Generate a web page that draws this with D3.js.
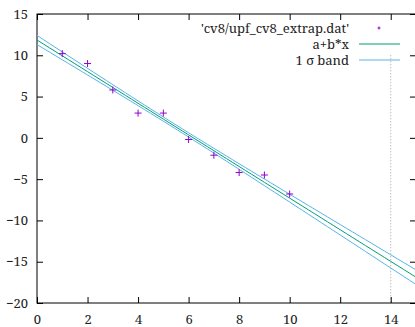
<!DOCTYPE html>
<html>
<head>
<meta charset="utf-8">
<script src="https://cdn.jsdelivr.net/npm/d3@7"></script>
<style>
  body { margin: 0; background: #fff; }
</style>
</head>
<body>
<svg id="chart" width="415" height="327"></svg>
<script>
// data points from the .dat file
const xValues = [1, 2, 3, 4, 5, 6, 7, 8, 9, 10];
const yValues = [10.2, 9.0, 5.8, 3.0, 3.0, -0.2, -2.1, -4.2, -4.5, -6.8];

// fit result a + b*x and its parameter (co)variances
const fitA = 11.85;
const fitB = -1.915;
const sigmaA = 0.553;
const sigmaB = 0.0891;
const covAB = -0.0437;

const xTicks = [0, 2, 4, 6, 8, 10, 12, 14];
const yTicks = [15, 10, 5, 0, -5, -10, -15, -20];
const markerX = 14; // dotted vertical line
const markerTop = 10;

const legendLabels = ["'cv8/upf_cv8_extrap.dat'", 'a+b*x', '1 σ band'];

const margin = {top: 14, right: -1, bottom: 24, left: 37};
const width = 415;
const height = 327;
const fontFamily = '"Noto Serif", "Liberation Serif", serif';

const svg = d3.select('#chart');

const x = d3.scaleLinear()
  .domain([0, 15])
  .range([margin.left, width - margin.right]);

const y = d3.scaleLinear()
  .domain([-20, 15])
  .range([height - margin.bottom, margin.top]);

// clip for the function curves
svg.append('clipPath')
  .attr('id', 'plot-clip')
  .append('rect')
  .attr('x', x(0))
  .attr('y', y(15))
  .attr('width', x(15) - x(0))
  .attr('height', y(-20) - y(15));

// dotted line at x = 14
svg.append('line')
  .attr('x1', x(markerX))
  .attr('x2', x(markerX))
  .attr('y1', y(markerTop))
  .attr('y2', y(-20))
  .attr('stroke', '#a0a0a0')
  .attr('stroke-width', 1)
  .attr('stroke-dasharray', '1,2');

// axes (gnuplot style: ticks pointing inward, mirrored)
const tickLen = 6;

const axisBottom = d3.axisBottom(x).tickValues(xTicks).tickSize(-tickLen).tickPadding(12);
const axisTop = d3.axisTop(x).tickValues(xTicks).tickSize(-tickLen).tickFormat('');
const axisLeft = d3.axisLeft(y).tickValues(yTicks).tickSize(-tickLen).tickPadding(9);
const axisRight = d3.axisRight(y).tickValues(yTicks).tickSize(-tickLen).tickFormat('');

function styleAxis(g) {
  g.attr('font-family', fontFamily).attr('font-size', 13);
  g.select('.domain').remove();
  g.selectAll('.tick line').attr('stroke', '#000');
  g.selectAll('.tick text').attr('fill', '#222');
}

svg.append('g')
  .attr('transform', `translate(0,${y(-20)})`)
  .call(axisBottom)
  .call(styleAxis);

svg.append('g')
  .attr('transform', `translate(0,${y(15)})`)
  .call(axisTop)
  .call(styleAxis);

svg.append('g')
  .attr('transform', `translate(${x(0)},0)`)
  .call(axisLeft)
  .call(styleAxis);

svg.append('g')
  .attr('transform', `translate(${x(15)},0)`)
  .call(axisRight)
  .call(styleAxis);

// border
svg.append('rect')
  .attr('x', x(0))
  .attr('y', y(15))
  .attr('width', x(15) - x(0))
  .attr('height', y(-20) - y(15))
  .attr('fill', 'none')
  .attr('stroke', '#000')
  .attr('stroke-width', 1);

// fit curves, sampled like gnuplot samples a function
const samples = d3.range(0, 15.01, 0.25);
const fitY = xv => fitA + fitB * xv;
const bandSigma = xv => Math.sqrt(sigmaA * sigmaA + 2 * xv * covAB + xv * xv * sigmaB * sigmaB);

const line = d3.line()
  .x(d => x(d[0]))
  .y(d => y(d[1]));

const curves = svg.append('g').attr('clip-path', 'url(#plot-clip)');

curves.append('path')
  .datum(samples.map(xv => [xv, fitY(xv) + bandSigma(xv)]))
  .attr('d', line)
  .attr('fill', 'none')
  .attr('stroke', '#56b4e9')
  .attr('stroke-width', 1);

curves.append('path')
  .datum(samples.map(xv => [xv, fitY(xv) - bandSigma(xv)]))
  .attr('d', line)
  .attr('fill', 'none')
  .attr('stroke', '#56b4e9')
  .attr('stroke-width', 1);

curves.append('path')
  .datum(samples.map(xv => [xv, fitY(xv)]))
  .attr('d', line)
  .attr('fill', 'none')
  .attr('stroke', '#009e73')
  .attr('stroke-width', 1);

// data points as '+' markers
const pts = xValues.map((xv, i) => [xv, yValues[i]]);
const plus = 3.5;
svg.append('g')
  .attr('class', 'points')
  .selectAll('path')
  .data(pts)
  .join('path')
  .attr('d', d => `M${x(d[0]) - plus},${y(d[1])}h${2 * plus}M${x(d[0])},${y(d[1]) - plus}v${2 * plus}`)
  .attr('fill', 'none')
  .attr('stroke', '#9400d3')
  .attr('stroke-width', 1);

// key
const key = svg.append('g')
  .attr('font-family', fontFamily)
  .attr('font-size', 13);
const keyTextX = 349;
const keyRowY = [28, 44, 60];
key.selectAll('text')
  .data(legendLabels)
  .join('text')
  .attr('x', keyTextX)
  .attr('y', (d, i) => keyRowY[i])
  .attr('dy', '0.35em')
  .attr('text-anchor', 'end')
  .attr('fill', '#222')
  .text(d => d);

key.append('path')
  .attr('d', `M${379 - 1.5},${keyRowY[0]}h3M379,${keyRowY[0] - 1.5}v3`)
  .attr('stroke', '#9400d3')
  .attr('stroke-width', 1);
key.append('line')
  .attr('x1', 359).attr('x2', 400)
  .attr('y1', keyRowY[1]).attr('y2', keyRowY[1])
  .attr('stroke', '#009e73');
key.append('line')
  .attr('x1', 359).attr('x2', 400)
  .attr('y1', keyRowY[2]).attr('y2', keyRowY[2])
  .attr('stroke', '#56b4e9');
</script>
</body>
</html>
